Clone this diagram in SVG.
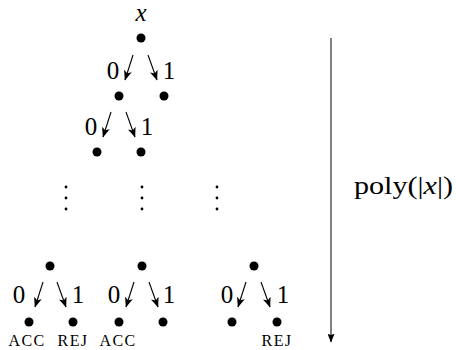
<svg xmlns="http://www.w3.org/2000/svg" width="456" height="350" viewBox="0 0 456 350">
  <defs>
    <marker id="tip" viewBox="0 0 10 8" refX="9.5" refY="4" markerWidth="10" markerHeight="8" markerUnits="userSpaceOnUse" orient="auto">
      <path d="M0,0 L10,4 L0,8 L2.5,4 z" fill="#000"/>
    </marker>
    <marker id="bigtip" viewBox="0 0 10 8" refX="9.5" refY="4" markerWidth="10" markerHeight="7" markerUnits="userSpaceOnUse" orient="auto">
      <path d="M0,0 L10,4 L0,8 L1.5,4 z" fill="#000"/>
    </marker>
  </defs>
  <style>
    .dot { fill: #000; }
    .vd { fill: #000; }
    .edge { stroke: #000; stroke-width: 1.1; fill: none; marker-end: url(#tip); }
    .bit { font-family: "Liberation Serif", "DejaVu Serif", serif; font-size: 25px; text-anchor: middle; fill: #000; }
    .lbl { font-family: "Liberation Serif", "DejaVu Serif", serif; font-size: 16px; text-anchor: middle; fill: #000; letter-spacing: 1.4px; }
    .math { font-family: "Liberation Serif", "DejaVu Serif", serif; font-size: 25px; fill: #000; }
  </style>

  <!-- input label -->
  <text class="math" x="141" y="21" text-anchor="middle" font-style="italic">x</text>

  <!-- nodes -->
  <g id="root"><circle class="dot" cx="141" cy="38" r="4.5"/></g>
  <g id="n0"><circle class="dot" cx="119" cy="96" r="4.5"/></g>
  <g id="n1"><circle class="dot" cx="164" cy="96" r="4.5"/></g>
  <g id="n00"><circle class="dot" cx="97" cy="152" r="4.5"/></g>
  <g id="n01"><circle class="dot" cx="141" cy="152" r="4.5"/></g>

  <!-- elided levels -->
  <g id="ellipsis">
    <circle class="vd" cx="66" cy="187" r="1.4"/>
    <circle class="vd" cx="66" cy="198" r="1.4"/>
    <circle class="vd" cx="66" cy="209" r="1.4"/>
    <circle class="vd" cx="142" cy="187" r="1.4"/>
    <circle class="vd" cx="142" cy="198" r="1.4"/>
    <circle class="vd" cx="142" cy="209" r="1.4"/>
    <circle class="vd" cx="217" cy="187" r="1.4"/>
    <circle class="vd" cx="217" cy="198" r="1.4"/>
    <circle class="vd" cx="217" cy="209" r="1.4"/>
  </g>

  <!-- last level -->
  <g id="pA"><circle class="dot" cx="50" cy="266" r="4.5"/></g>
  <g id="pB"><circle class="dot" cx="142" cy="266" r="4.5"/></g>
  <g id="pC"><circle class="dot" cx="254" cy="266" r="4.5"/></g>
  <g id="leafA0"><circle class="dot" cx="29" cy="322" r="4.5"/><text class="lbl" x="27" y="346">ACC</text></g>
  <g id="leafA1"><circle class="dot" cx="73" cy="322" r="4.5"/><text class="lbl" x="73" y="346">REJ</text></g>
  <g id="leafB0"><circle class="dot" cx="119" cy="322" r="4.5"/><text class="lbl" x="118" y="346">ACC</text></g>
  <g id="leafB1"><circle class="dot" cx="163" cy="322" r="4.5"/></g>
  <g id="leafC0"><circle class="dot" cx="232" cy="322" r="4.5"/></g>
  <g id="leafC1"><circle class="dot" cx="277" cy="322" r="4.5"/><text class="lbl" x="277" y="346">REJ</text></g>

  <!-- connectors -->
  <g id="connectors">
    <path class="edge" d="M133,55 L125,80"/>
    <path class="edge" d="M148,55 L157,80"/>
    <path class="edge" d="M111,112 L103,137"/>
    <path class="edge" d="M126,112 L135,137"/>
    <path class="edge" d="M43,282 L35,307"/>
    <path class="edge" d="M57,282 L66,307"/>
    <path class="edge" d="M134,282 L126,307"/>
    <path class="edge" d="M149,282 L158,307"/>
    <path class="edge" d="M246,282 L238,307"/>
    <path class="edge" d="M261,282 L270,307"/>
  </g>

  <!-- edge bits -->
  <g id="bits">
    <text class="bit" x="113" y="79">0</text>
    <text class="bit" x="169" y="79">1</text>
    <text class="bit" x="91" y="135">0</text>
    <text class="bit" x="147" y="135">1</text>
    <text class="bit" x="19" y="303">0</text>
    <text class="bit" x="78" y="303">1</text>
    <text class="bit" x="114" y="303">0</text>
    <text class="bit" x="169" y="303">1</text>
    <text class="bit" x="227" y="303">0</text>
    <text class="bit" x="283" y="303">1</text>
  </g>

  <!-- running-time axis -->
  <g id="time">
    <line x1="331" y1="38" x2="331" y2="342" stroke="#000" stroke-width="1" marker-end="url(#bigtip)"/>
    <text class="math" x="354" y="194" textLength="99" lengthAdjust="spacingAndGlyphs">poly(|<tspan font-style="italic">x</tspan>|)</text>
  </g>
</svg>
